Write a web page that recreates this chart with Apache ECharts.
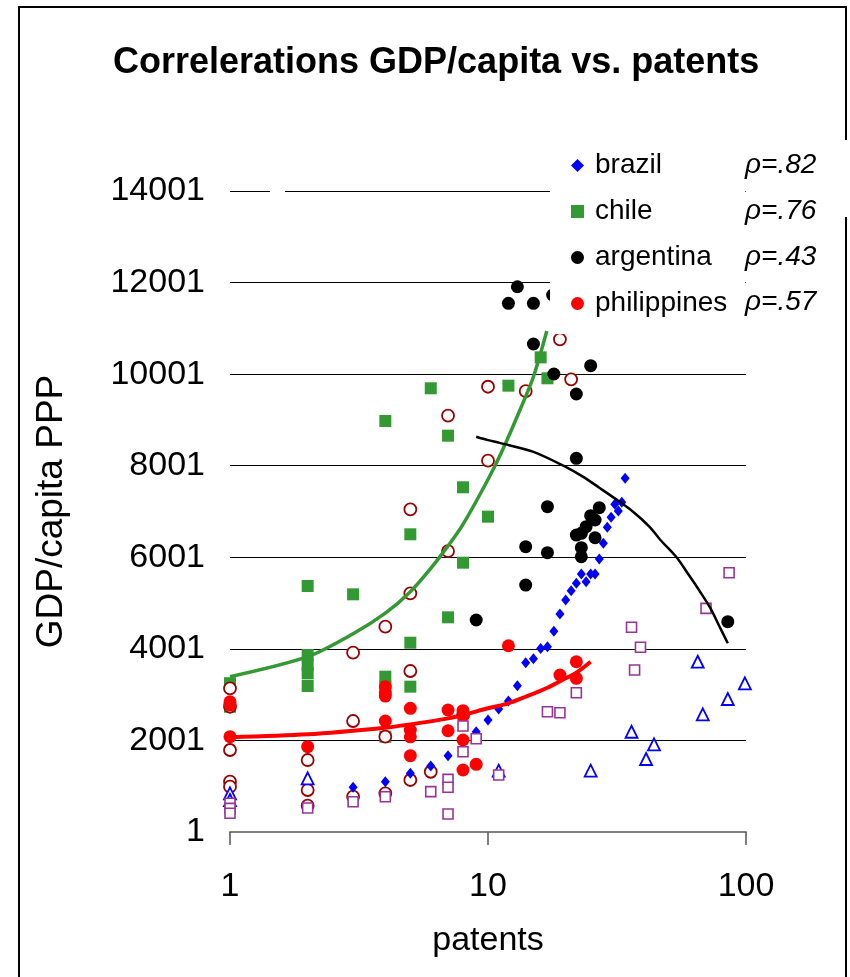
<!DOCTYPE html>
<html><head><meta charset="utf-8">
<script src="https://cdn.jsdelivr.net/npm/echarts@6/dist/echarts.min.js"></script>
<style>html,body{margin:0;padding:0;background:#fff}#c{width:850px;height:977px}</style>
</head><body><div id="c"></div>
<script>
const titleText = 'Correlerations GDP/capita vs. patents';
const xAxisName = 'patents';
const yAxisName = 'GDP/capita PPP';
const xTicks = [1, 10, 100];
const yTicks = [1, 2001, 4001, 6001, 8001, 10001, 12001, 14001];
const legendNames = ['brazil', 'chile', 'argentina', 'philippines'];
const rhoLabels = ['\u03c1=.82', '\u03c1=.76', '\u03c1=.43', '\u03c1=.57'];

// [patents, GDP/capita PPP]
const brazil = [[3,977],[4,1098],[5,1283],[6,1441],[7,1667],[9,2190],[10,2447],[11,2687],[12,2862],[13,3196],[14,3698],[15,3786],[16,4008],[17,4047],[18,4384],[19,4762],[20,5068],[21,5271],[22,5432],[23,5636],[24,5468],[25,5636],[26,5636],[27,5963],[28,6306],[29,6655],[30,6873],[31,7158],[32,7011],[33,7202],[34,7726]];
const chile = [[1,3250],[1,2737],[2,5374],[2,3866],[2,3648],[2,3466],[2,3190],[3,5192],[4,8977],[4,3393],[4,3175],[4,2082],[5,6503],[5,4135],[5,3175],[6,9692],[7,8657],[7,4690],[8,7530],[8,5883],[10,6888],[12,9749],[16,10368],[17,9910]];
const argentina = [[9,4631],[12,11547],[13,11910],[15,11547],[15,10659],[17.8,11729],[18,10004],[25,10185],[22,9567],[22,8162],[14,6232],[14,5395],[17,7106],[17,6101],[27,7084],[25,6910],[26,6815],[26,6428],[24,6669],[22,6487],[23,6524],[23,6210],[23,6013],[85,4594]];
const philippines = [[1,2846],[1,2775],[1,2082],[2,1864],[4,3175],[4,3040],[4,2970],[4,2425],[5,2703],[5,2229],[5,2080],[5,1667],[7,2665],[7,2213],[8,2650],[8,2534],[8,2010],[8,1355],[9,1479],[12,4069],[19,3430],[22,3357],[22,3720]];
const hollowCircles = [[1,3140],[1,2737],[1,1792],[1,1100],[1,990],[2,1573],[2,918],[2,575],[3,3918],[3,2425],[3,772],[4,4485],[4,2082],[4,846],[5,7048],[5,5214],[5,3517],[5,1137],[6,1317],[7,9093],[7,6137],[8,2556],[10,9726],[10,8110],[14,9632],[19,10761],[21,9888]];
const hollowSquares = [[1,628],[1,518],[1,409],[2,525],[3,662],[4,772],[6,882],[7,1151],[7,977],[7,393],[8,2316],[8,1755],[9,2039],[11,1245],[17,2628],[19,2606],[22,3043],[36,4472],[37,3539],[39,4035],[70,4886],[86,5664]];
const hollowTriangles = [[1,846],[1,700],[2,1174],[11,1340],[25,1340],[36,2191],[41,1595],[44,1916],[65,3720],[68,2571],[85,2906],[99,3249]];

// trend lines
const chileTrend = [[1,3393],[2,3830],[3,4330],[4,4780],[5,5250],[6,5760],[7,6250],[8,6720],[10,7700],[11.4,8350],[13.3,9217],[15,9944],[16.9,10943]];
const philippinesTrend = [[1,2070],[2,2134],[4,2278],[5,2352],[7,2483],[8,2556],[10,2703],[12,2812],[14,2955],[17,3152],[20,3357],[22,3480],[25,3720]];
const argentinaTrend = [[9,8634],[10,8560],[11.1,8500],[15,8304],[20,7976],[23.4,7758],[27,7520],[31.5,7260],[36.5,6996],[42.4,6660],[46.4,6390],[53.8,6000],[59.6,5640],[66,5270],[72.6,4900],[79,4485],[85,4122]];

const FF = '"Liberation Sans", Arial, sans-serif';
const chart = echarts.init(document.getElementById('c'), null, {renderer: 'canvas'});

const rowY = [165, 211, 257, 302];
const graphics = [
  {type:'rect', shape:{x:19, y:7, width:827, height:1000}, style:{fill:'none', stroke:'#000', lineWidth:2}, z:1, silent:true},
  {type:'rect', shape:{x:836, y:140, width:14, height:77}, style:{fill:'#fff'}, z:20, silent:true},
  {type:'rect', shape:{x:270, y:186, width:15, height:10}, style:{fill:'#fff'}, z:20, silent:true}
];
rhoLabels.forEach((t, i) => {
  graphics.push({type:'text', x:745, y:rowY[i], z:30, silent:true,
    style:{text:t, fill:'#000', font:'italic 28px ' + FF, textVerticalAlign:'middle', verticalAlign:'middle', textAlign:'left', align:'left'}});
});

function scatter(name, data, symbol, size, itemStyle, z) {
  return {name, type:'scatter', data, symbol, symbolSize:size, itemStyle: Object.assign({opacity: 1}, itemStyle), z, emphasis:{disabled:true}, animation:false};
}
function trend(name, data, color, width) {
  return {name, type:'line', data, smooth:0.3, showSymbol:false, symbol:'none', lineStyle:{color, width, opacity: 1}, z:4, emphasis:{disabled:true}, animation:false};
}

chart.setOption({
  animation: false,
  backgroundColor: '#fff',
  title: {text: titleText, left: 108, top: 40, textStyle: {fontSize: 36, fontWeight: 'bold', color: '#000', fontFamily: FF}},
  grid: {left: 230, right: 104, top: 191, bottom: 145, containLabel: false, outerBoundsMode: 'none'},
  legend: {
    data: legendNames, orient: 'vertical', left: 550, top: 138,
    padding: [13, 18, 16, 21], itemWidth: 13, itemHeight: 13, itemGap: 17,
    backgroundColor: '#fff', selectedMode: false, z: 10,
    itemStyle: {opacity: 1},
    textStyle: {fontSize: 28, color: '#000', fontFamily: FF, lineHeight: 29, padding: [0,0,0,6]}
  },
  xAxis: {
    type: 'log', logBase: 10, min: xTicks[0], max: xTicks[xTicks.length-1],
    axisLine: {show: true, lineStyle: {color: '#808080', width: 2}},
    axisTick: {show: true, length: 13, lineStyle: {color: '#555', width: 1.5}},
    axisLabel: {fontSize: 34, margin: 38, color: '#000', fontFamily: FF, formatter: v => String(v)},
    splitLine: {show: false},
    name: xAxisName, nameLocation: 'middle', nameGap: 92,
    nameTextStyle: {fontSize: 34, color: '#000', fontFamily: FF},
    z: 5
  },
  yAxis: {
    type: 'value', min: yTicks[0], max: yTicks[yTicks.length-1], interval: yTicks[1] - yTicks[0],
    axisLine: {show: false}, axisTick: {show: false},
    axisLabel: {fontSize: 34, margin: 25, color: '#000', fontFamily: FF, formatter: v => String(v)},
    splitLine: {show: true, lineStyle: {color: '#000', width: 1}},
    name: yAxisName, nameLocation: 'middle', nameGap: 160, nameRotate: 90,
    nameTextStyle: {fontSize: 37, color: '#000', fontFamily: FF}
  },
  graphic: graphics,
  series: [
    scatter('chile', chile, 'rect', 12, {color: '#339933'}, 2),
    scatter('hollow circles', hollowCircles, 'circle', 12, {color: '#fff', borderColor: '#990000', borderWidth: 1.8}, 2),
    scatter('brazil', brazil, 'diamond', [9, 11], {color: '#0000ff'}, 2),
    scatter('hollow triangles', hollowTriangles, 'triangle', 12, {color: '#fff', borderColor: '#0000ff', borderWidth: 1.8}, 2),
    scatter('philippines', philippines, 'circle', 13, {color: '#ff0000'}, 2),
    scatter('hollow squares', hollowSquares, 'rect', 10, {color: '#fff', borderColor: '#993399', borderWidth: 1.6}, 2),
    scatter('argentina', argentina, 'circle', 13, {color: '#000'}, 2),
    trend('chile trend', chileTrend, '#339933', 3.5),
    trend('argentina trend', argentinaTrend, '#000', 2.5),
    trend('philippines trend', philippinesTrend, '#ff0000', 4)
  ]
});
</script>
</body></html>
